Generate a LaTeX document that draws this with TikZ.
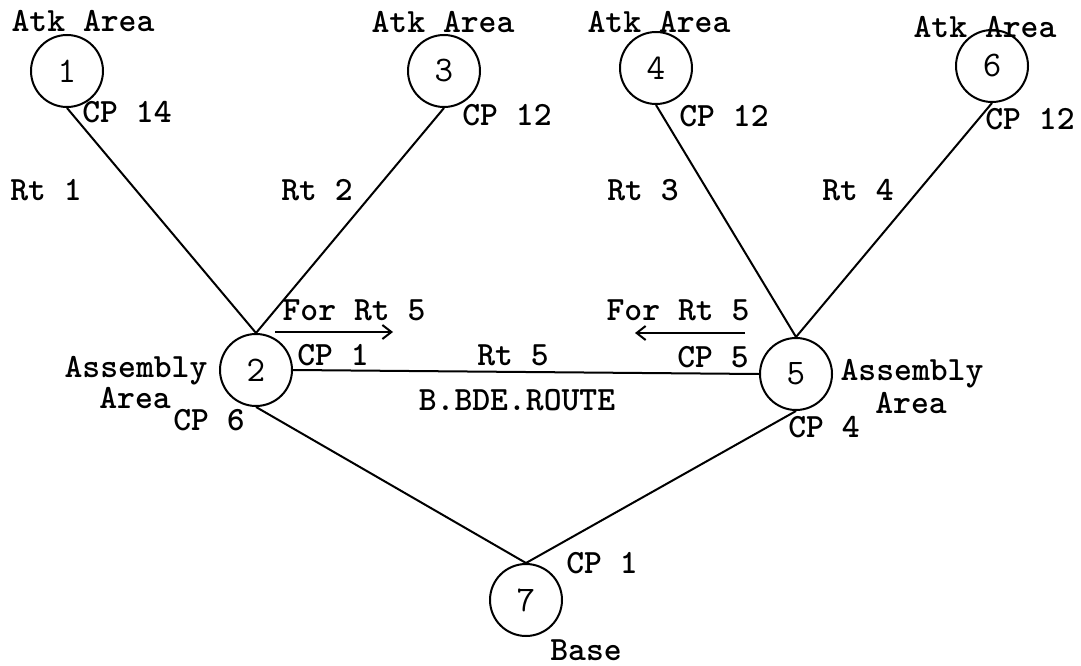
\documentclass[tikz,border=0pt]{standalone}
\usetikzlibrary{arrows.meta}
\begin{document}
\begin{tikzpicture}[x=1pt,y=-1pt,
  area/.style={circle,draw,line width=2pt,minimum size=72pt,inner sep=0pt,font=\fontsize{36}{42}\selectfont\ttfamily},
  lbl/.style={anchor=base,inner sep=0pt,font=\fontsize{34}{40}\selectfont\ttfamily\bfseries},
  route/.style={line width=2pt},
  dirarrow/.style={line width=2pt,-{Straight Barb[length=9pt,width=14pt]}}]
\useasboundingbox (0,0) rectangle (1081,666);
% circles
\node[area] (n1) at (67,71) {1};
\node[area] (n3) at (444,71) {3};
\node[area] (n4) at (656,68) {4};
\node[area] (n6) at (992,66) {6};
\node[area] (n2) at (256,370) {2};
\node[area] (n5) at (796,374) {5};
\node[area] (n7) at (526,600) {7};
% routes
\draw[route] (n1.south) -- (n2.north);
\draw[route] (n3.south) -- (n2.north);
\draw[route] (n4.south) -- (n5.north);
\draw[route] (n6.south) -- (n5.north);
\draw[route] (n2.east) -- (n5.west);
\draw[route] (n2.south) -- (n7.north);
\draw[route] (n5.south) -- (n7.north);
% direction arrows
\coordinate (a1s) at (275,332);
\coordinate (a1e) at (393,332);
\coordinate (a2s) at (745,333);
\coordinate (a2e) at (635,333);
\draw[dirarrow] (a1s) -- (a1e);
\draw[dirarrow] (a2s) -- (a2e);
% labels
\node[lbl] (t1) at (83,32) {Atk Area};
\node[lbl] (t3) at (443,33) {Atk Area};
\node[lbl] (t4) at (659,33) {Atk Area};
\node[lbl] (t6) at (985,38) {Atk Area};
\node[lbl] (c14) at (127,123) {CP 14};
\node[lbl] (c12a) at (507,125) {CP 12};
\node[lbl] (c12b) at (724,127) {CP 12};
\node[lbl] (c12c) at (1030,130) {CP 12};
\node[lbl] (r1) at (46,200) {Rt 1};
\node[lbl] (r2) at (317,200) {Rt 2};
\node[lbl] (r3) at (643,200) {Rt 3};
\node[lbl] (r4) at (858,200) {Rt 4};
\node[lbl] (f1) at (354,320) {For Rt 5};
\node[lbl] (f2) at (678,320) {For Rt 5};
\node[lbl] (cp1a) at (333,365) {CP 1};
\node[lbl] (asl) at (136,377) {Assembly};
\node[lbl] (arl) at (135,408) {Area};
\node[lbl] (cp6) at (209,430) {CP 6};
\node[lbl] (r5) at (513,365) {Rt 5};
\node[lbl] (bde) at (517,410) {B.BDE.ROUTE};
\node[lbl] (cp5) at (713,367) {CP 5};
\node[lbl] (asr) at (912,380) {Assembly};
\node[lbl] (arr) at (911,413) {Area};
\node[lbl] (cp4) at (824,437) {CP 4};
\node[lbl] (cp1b) at (602,573) {CP 1};
\node[lbl] (base) at (586,660) {Base};
\end{tikzpicture}
\end{document}
